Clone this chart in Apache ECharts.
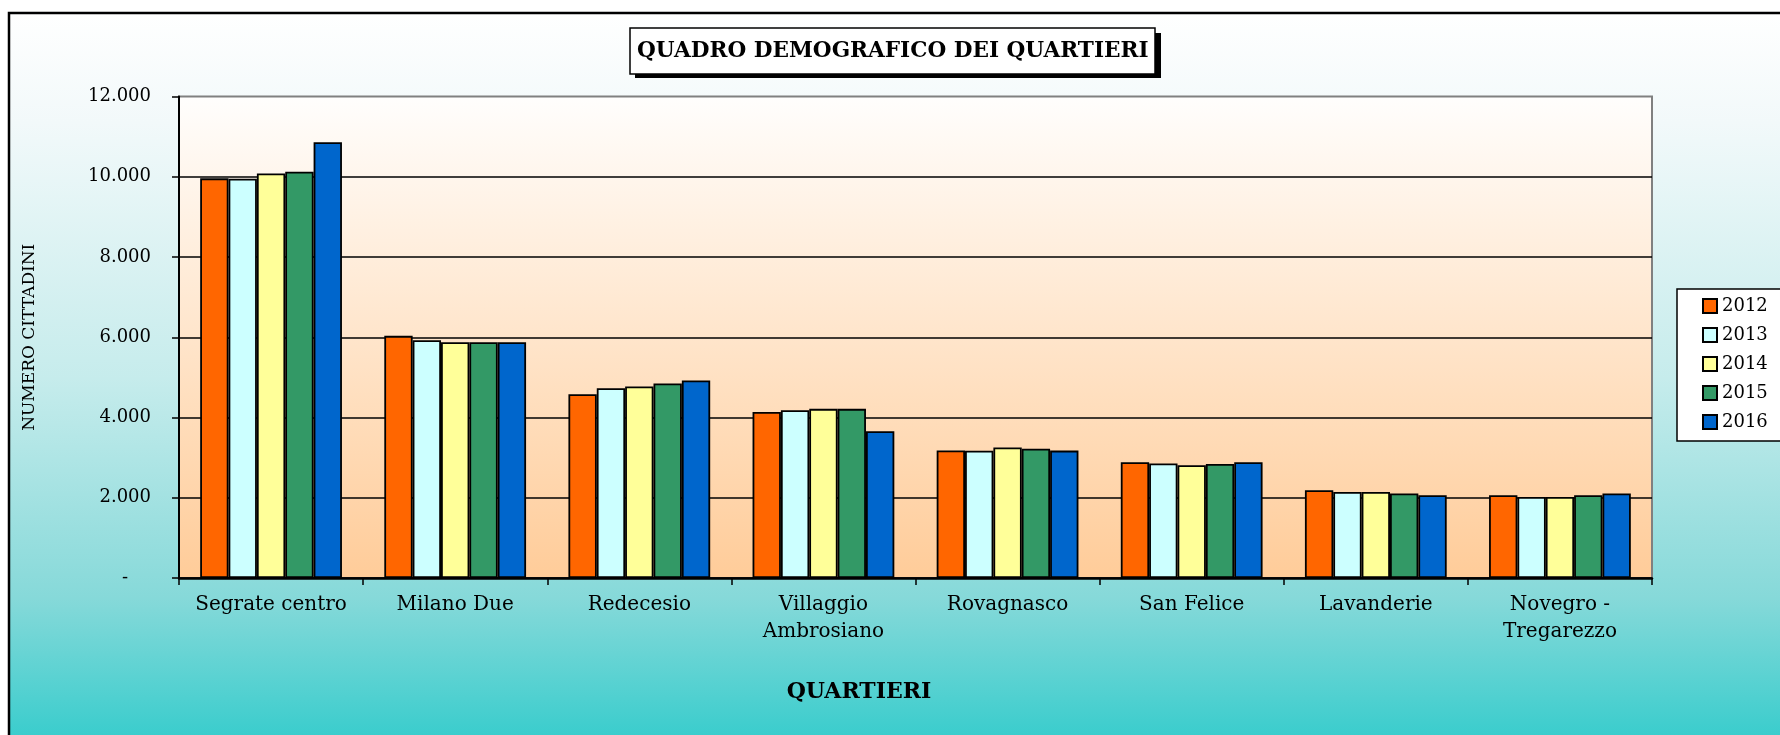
<!DOCTYPE html>
<html>
<head>
<meta charset="utf-8">
<script src="https://cdn.jsdelivr.net/npm/echarts@6/dist/echarts.min.js"></script>
<style>
html,body{margin:0;padding:0;background:#fff;}
#chart{width:1780px;height:735px;}
</style>
</head>
<body>
<div id="chart"></div>
<script>
const categories = ['Segrate centro', 'Milano Due', 'Redecesio', 'Villaggio\nAmbrosiano', 'Rovagnasco', 'San Felice', 'Lavanderie', 'Novegro -\nTregarezzo'];
const years = ['2012', '2013', '2014', '2015', '2016'];
const v2012 = [9960, 6035, 4580, 4140, 3177, 2885, 2187, 2062];
const v2013 = [9950, 5928, 4730, 4182, 3170, 2853, 2145, 2020];
const v2014 = [10080, 5878, 4772, 4215, 3255, 2810, 2145, 2020];
const v2015 = [10125, 5878, 4847, 4215, 3220, 2843, 2105, 2062];
const v2016 = [10858, 5878, 4922, 3658, 3175, 2885, 2062, 2105];
const seriesValues = [v2012, v2013, v2014, v2015, v2016];
const colors = ['#ff6600', '#ccffff', '#ffff99', '#339966', '#0066cc'];
const titleText = 'QUADRO DEMOGRAFICO DEI QUARTIERI';
const yAxisTitle = 'NUMERO CITTADINI';
const xAxisTitle = 'QUARTIERI';

const FONT = 'DejaVu Serif';
function fmt(v) {
  if (v === 0) return '-    ';
  return String(v).replace(/\B(?=(\d{3})+(?!\d))/g, '.');
}

const chart = echarts.init(document.getElementById('chart'), null, {renderer: 'canvas'});
const option = {
  animation: false,
  backgroundColor: '#ffffff',
  textStyle: {fontFamily: FONT},
  graphic: [
    {
      type: 'rect', z: -10, silent: true,
      shape: {x: 9, y: 13, width: 1800, height: 730},
      style: {
        fill: new echarts.graphic.LinearGradient(0, 0, 0, 1, [
          {offset: 0, color: '#ffffff'},
          {offset: 0.15, color: '#f2f9fa'},
          {offset: 0.5, color: '#c6ecec'},
          {offset: 0.8, color: '#86d9d9'},
          {offset: 1, color: '#36cccc'}
        ]),
        stroke: '#000000', lineWidth: 2.5
      }
    },
    {
      type: 'rect', z: 1, silent: true,
      shape: {x: 635, y: 33, width: 526, height: 45},
      style: {fill: '#000000'}
    },
    {
      type: 'text', z: 10, silent: true,
      x: 859, y: 692,
      style: {
        text: xAxisTitle, fill: '#000', font: 'bold 22px "DejaVu Serif"',
        align: 'center', verticalAlign: 'middle'
      }
    }
  ],
  title: {
    text: titleText,
    left: 630, top: 28,
    padding: [12, 7, 12, 7],
    backgroundColor: '#ffffff',
    borderColor: '#000000', borderWidth: 1.5,
    textStyle: {fontFamily: FONT, fontWeight: 'bold', fontSize: 21.6, color: '#000'}
  },
  legend: {
    orient: 'vertical',
    left: 1677, top: 289,
    padding: [8, 80, 10, 25],
    backgroundColor: '#ffffff',
    borderColor: '#000000', borderWidth: 1.5,
    itemWidth: 14, itemHeight: 14, itemGap: 11,
    icon: 'rect',
    selectedMode: false,
    textStyle: {fontFamily: FONT, fontSize: 18, color: '#000'},
    data: years
  },
  grid: {
    left: 179, right: 128, top: 96.5, bottom: 157,
    show: true,
    borderColor: '#808080', borderWidth: 2,
    backgroundColor: new echarts.graphic.LinearGradient(0, 0, 0, 1, [
      {offset: 0, color: '#fffefd'},
      {offset: 1, color: '#ffcc99'}
    ])
  },
  xAxis: {
    type: 'category',
    data: categories,
    axisLine: {lineStyle: {color: '#000', width: 2.5}},
    axisTick: {show: true, length: 7, lineStyle: {color: '#000', width: 1.5}},
    axisLabel: {fontFamily: FONT, fontSize: 20, color: '#000', margin: 13, lineHeight: 27, interval: 0}
  },
  yAxis: {
    type: 'value',
    min: 0, max: 12000, interval: 2000,
    name: yAxisTitle,
    nameLocation: 'middle',
    nameGap: 141,
    nameRotate: 90,
    nameTextStyle: {fontFamily: FONT, fontSize: 17, color: '#000'},
    axisLine: {show: true, lineStyle: {color: '#000', width: 2}},
    axisTick: {show: true, length: 7, lineStyle: {color: '#000', width: 1.5}},
    axisLabel: {fontFamily: FONT, fontSize: 18, color: '#000', margin: 28, formatter: fmt},
    splitLine: {show: true, showMaxLine: false, lineStyle: {color: '#000', width: 1.5}}
  },
  series: years.map((y, i) => ({
    name: y,
    type: 'bar',
    data: seriesValues[i],
    barGap: '0%',
    barCategoryGap: '23%',
    itemStyle: {color: colors[i], borderColor: '#000', borderWidth: 1.8}
  }))
};
chart.setOption(option);
</script>
</body>
</html>
